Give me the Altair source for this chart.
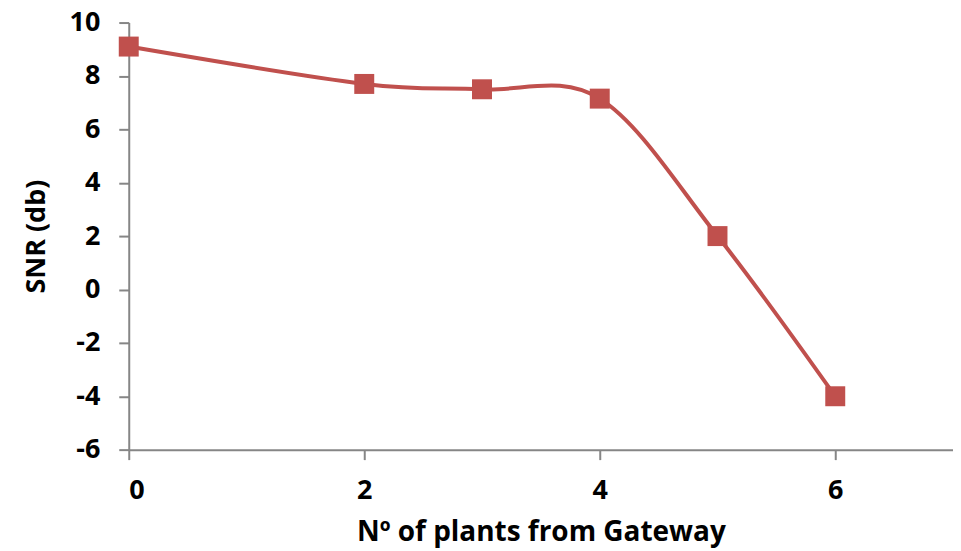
import altair as alt
import pandas as pd

plants = [0, 2, 3, 4, 5, 6]
snr = [9.1, 7.7, 7.5, 7.15, 2.0, -4.0]
x_ticks = [0, 2, 4, 6]
y_ticks = [-6, -4, -2, 0, 2, 4, 6, 8, 10]

df = pd.DataFrame({"plants": plants, "snr": snr})

FONT = "Open Sans"
AX = "#868686"
RED = "#C0504D"

x = alt.X("plants:Q", title="Nº of plants from Gateway",
          scale=alt.Scale(domain=[0, 7], nice=False, zero=False),
          axis=alt.Axis(values=x_ticks, grid=False, domainColor=AX, tickColor=AX,
                        tickSize=10, domainWidth=2, tickWidth=2, labelFontSize=27,
                        labelExpr="'' + datum.value",
                        labelFont=FONT, labelFontWeight="bold", labelColor="black",
                        labelPadding=18, titleFont=FONT, titleFontSize=28,
                        titleFontWeight="bold", titleColor="black", titlePadding=15))
y = alt.Y("snr:Q", title="SNR (db)",
          scale=alt.Scale(domain=[-6, 10], nice=False, zero=False),
          axis=alt.Axis(values=y_ticks, grid=False, domainColor=AX, tickColor=AX,
                        tickSize=10, domainWidth=2, tickWidth=2, labelFontSize=27,
                        labelExpr="'' + datum.value",
                        labelFont=FONT, labelFontWeight="bold", labelColor="black",
                        labelPadding=19, titleFont=FONT, titleFontSize=27,
                        titleFontWeight="bold", titleColor="black", titlePadding=19))

line = alt.Chart(df).mark_line(interpolate="cardinal", tension=0, color=RED,
                               strokeWidth=4).encode(x=x, y=y)
pts = alt.Chart(df).mark_point(shape="square", filled=True, size=400, color=RED,
                               opacity=1).encode(x="plants:Q", y="snr:Q")

chart = (line + pts).properties(
    width=826, height=428,
    autosize=alt.AutoSizeParams(type="none"),
    padding={"left": 121, "top": 14, "right": 0, "bottom": 100},
).configure_view(stroke=None)

chart.save("out.html", embed_options={"renderer": "svg", "actions": False})
